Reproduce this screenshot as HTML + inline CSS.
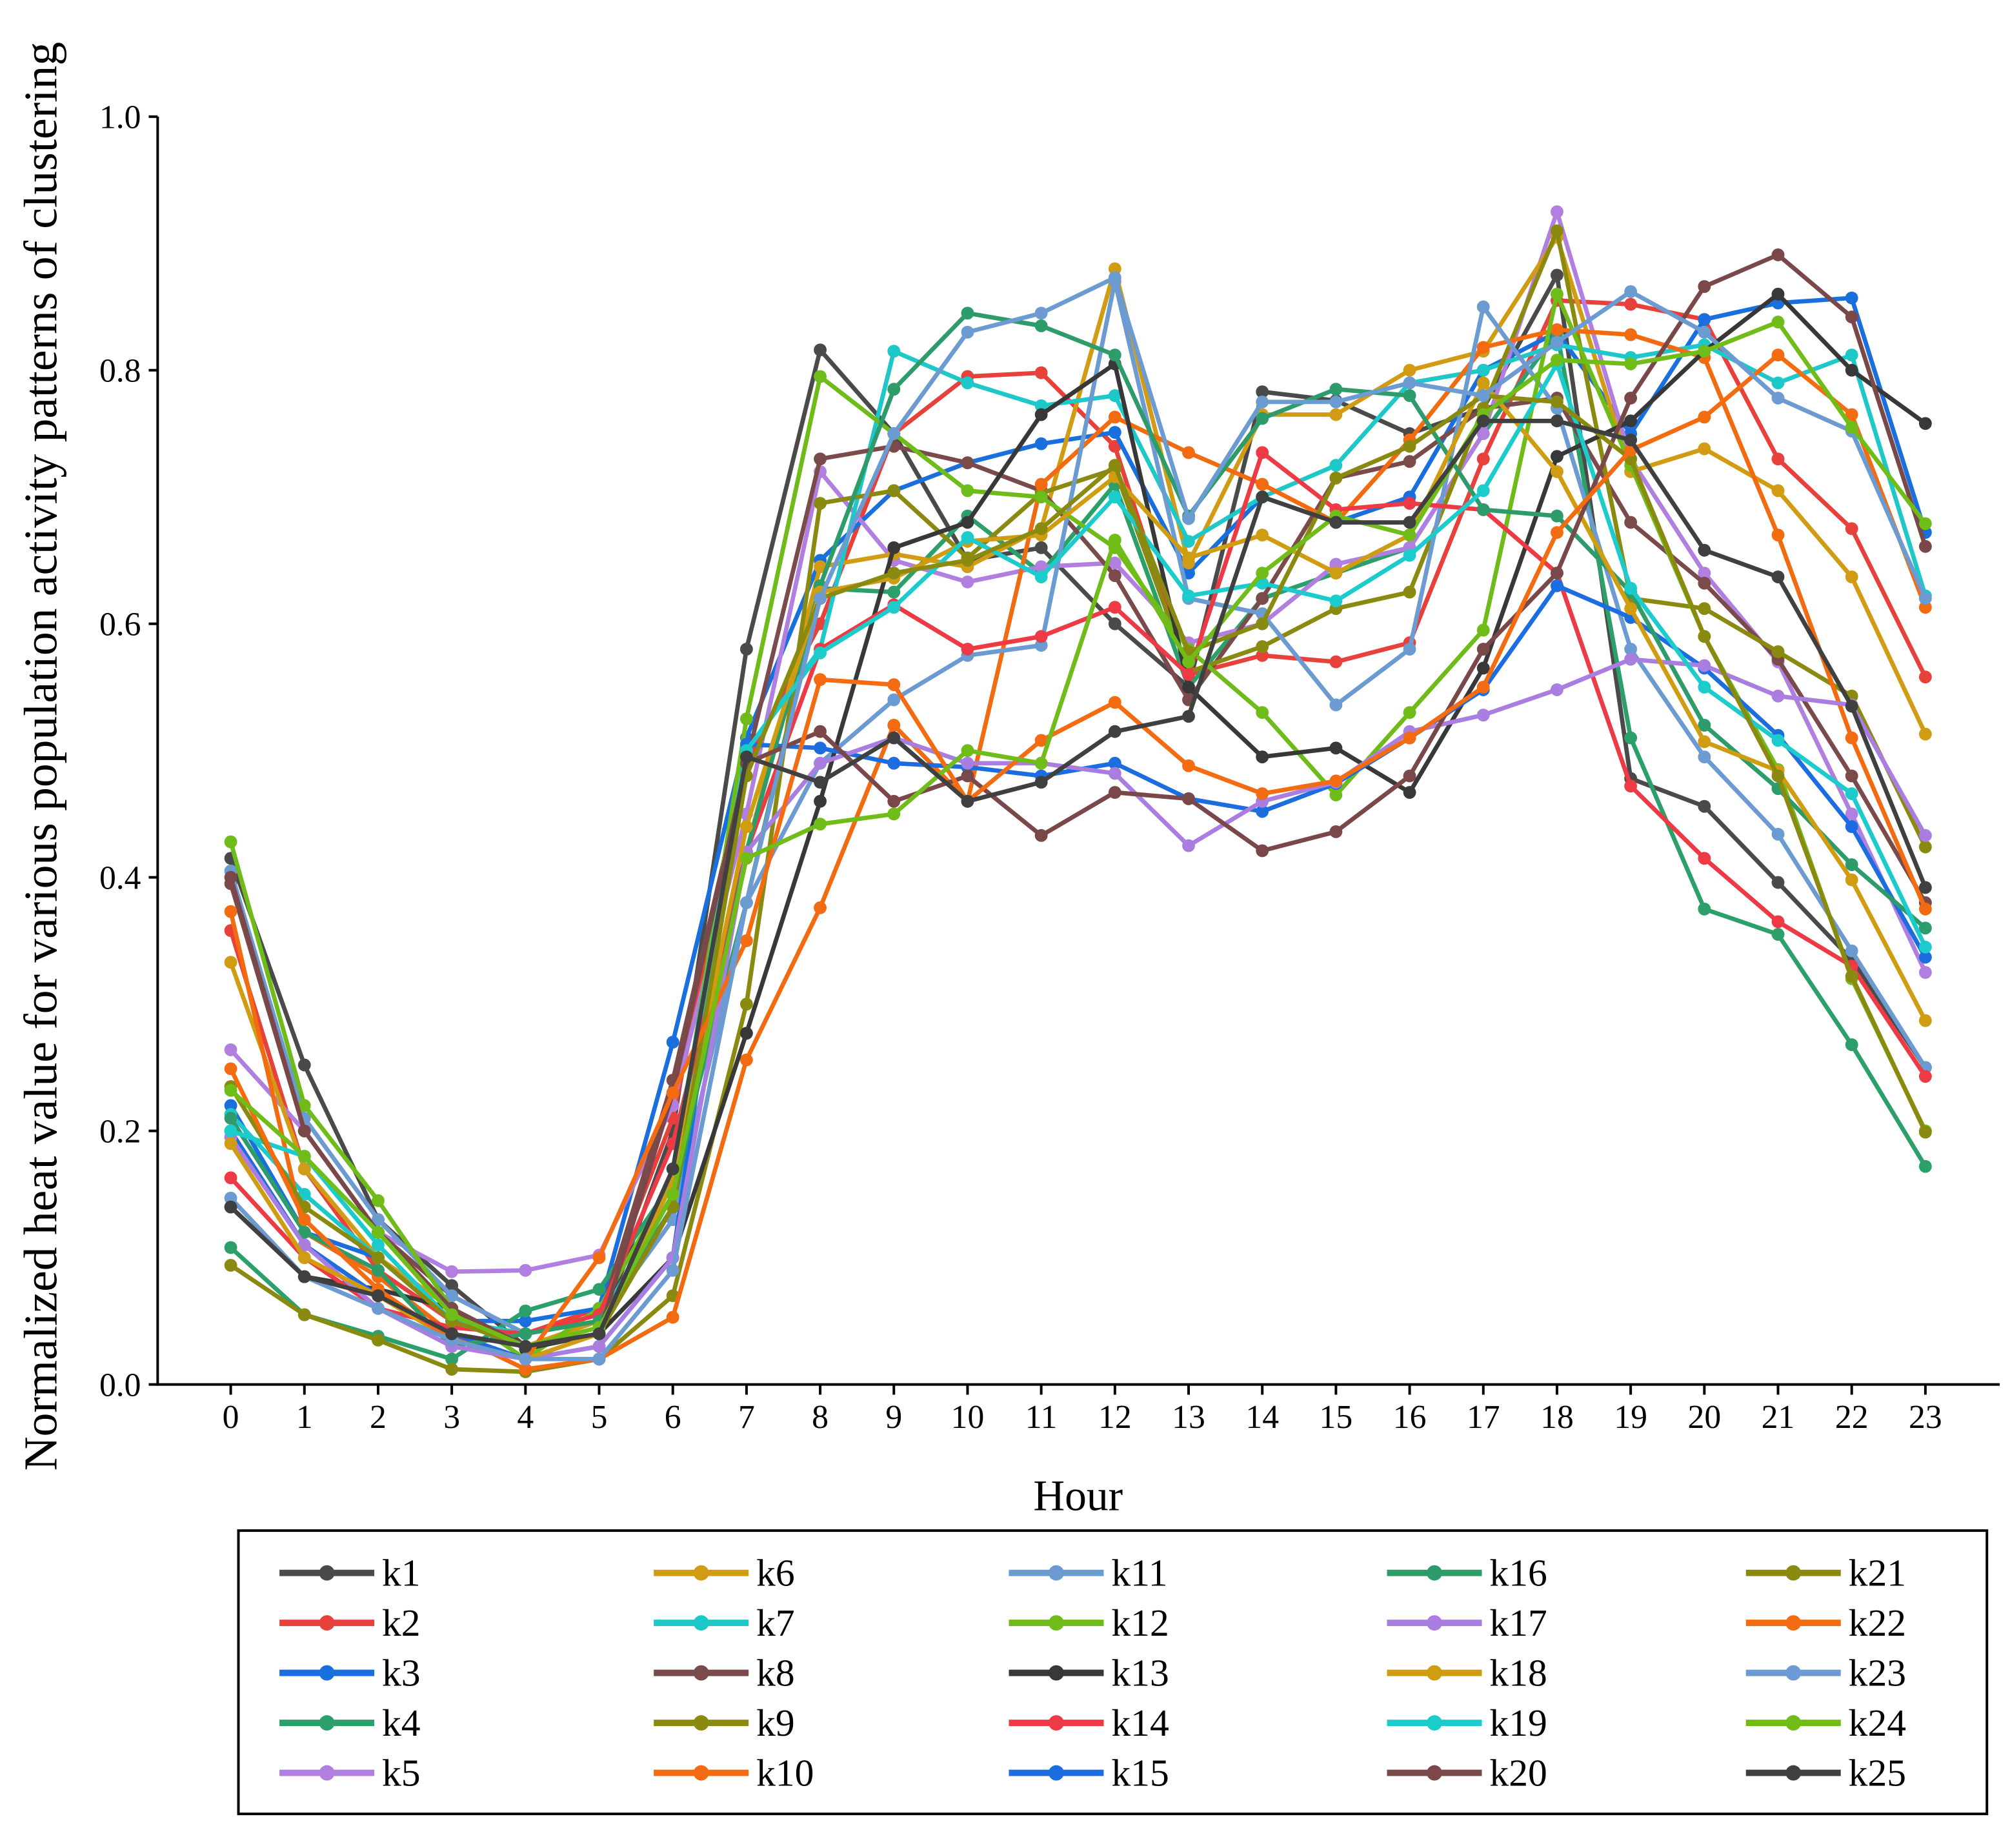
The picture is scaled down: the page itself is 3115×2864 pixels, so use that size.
<!DOCTYPE html>
<html><head><meta charset="utf-8"><style>
html,body{margin:0;padding:0;background:#fff}
svg{display:block}
text{font-family:"Liberation Serif",serif;fill:#000}
</style></head><body>
<svg id="chart" width="3115" height="2864" viewBox="0 0 1568 1441.6" preserveAspectRatio="none" xmlns="http://www.w3.org/2000/svg">
<g id="axes"></g>
<g id="series"></g>
<g id="legend"></g>
</svg>
<script>
const hours = [0,1,2,3,4,5,6,7,8,9,10,11,12,13,14,15,16,17,18,19,20,21,22,23];
const yTicks = [0.0,0.2,0.4,0.6,0.8,1.0];
const yTickLabels = ["0.0","0.2","0.4","0.6","0.8","1.0"];
const seriesNames = ["k1","k2","k3","k4","k5","k6","k7","k8","k9","k10","k11","k12","k13","k14","k15","k16","k17","k18","k19","k20","k21","k22","k23","k24","k25"];
const k1 = [0.415,0.252,0.13,0.078,0.03,0.04,0.2,0.58,0.816,0.75,0.65,0.66,0.60,0.55,0.783,0.776,0.75,0.77,0.875,0.478,0.456,0.396,0.335,0.25];
const k2 = [0.358,0.17,0.09,0.05,0.04,0.06,0.21,0.49,0.6,0.75,0.795,0.798,0.74,0.56,0.575,0.57,0.585,0.73,0.855,0.852,0.84,0.73,0.675,0.558];
const k3 = [0.22,0.12,0.1,0.05,0.05,0.06,0.27,0.51,0.65,0.705,0.727,0.742,0.751,0.64,0.70,0.68,0.70,0.80,0.83,0.75,0.84,0.853,0.857,0.672];
const k4 = [0.108,0.055,0.038,0.02,0.058,0.075,0.16,0.38,0.628,0.625,0.685,0.64,0.71,0.55,0.62,0.64,0.66,0.75,0.83,0.51,0.375,0.355,0.268,0.172];
const k5 = [0.264,0.2,0.12,0.089,0.09,0.102,0.22,0.45,0.72,0.65,0.633,0.645,0.648,0.585,0.6,0.647,0.66,0.75,0.925,0.73,0.64,0.57,0.45,0.325];
const k6 = [0.333,0.17,0.1,0.06,0.03,0.05,0.15,0.42,0.645,0.655,0.645,0.675,0.88,0.648,0.765,0.765,0.8,0.815,0.905,0.72,0.738,0.705,0.637,0.513];
const k7 = [0.213,0.15,0.1,0.05,0.04,0.05,0.15,0.5,0.58,0.815,0.79,0.772,0.78,0.665,0.7,0.725,0.79,0.80,0.82,0.81,0.82,0.79,0.812,0.622];
const k8 = [0.395,0.2,0.12,0.07,0.04,0.05,0.24,0.49,0.73,0.74,0.727,0.705,0.638,0.54,0.62,0.715,0.728,0.77,0.778,0.68,0.632,0.572,0.48,0.38];
const k9 = [0.094,0.055,0.035,0.012,0.01,0.02,0.07,0.3,0.695,0.705,0.652,0.703,0.722,0.562,0.582,0.612,0.625,0.77,0.91,0.62,0.612,0.578,0.543,0.424];
const k10 = [0.373,0.12,0.085,0.04,0.012,0.02,0.053,0.256,0.376,0.52,0.46,0.71,0.763,0.735,0.71,0.68,0.745,0.818,0.832,0.828,0.81,0.67,0.51,0.375];
const k11 = [0.405,0.21,0.13,0.07,0.04,0.05,0.13,0.38,0.49,0.54,0.575,0.583,0.87,0.62,0.608,0.536,0.58,0.85,0.77,0.58,0.495,0.434,0.342,0.25];
const k12 = [0.428,0.22,0.145,0.06,0.02,0.06,0.16,0.525,0.795,0.75,0.705,0.70,0.66,0.58,0.53,0.465,0.53,0.595,0.86,0.725,0.59,0.485,0.32,0.2];
const k13 = [0.14,0.085,0.075,0.06,0.028,0.04,0.1,0.277,0.46,0.66,0.68,0.765,0.805,0.55,0.495,0.502,0.467,0.565,0.732,0.76,0.815,0.86,0.80,0.758];
const k14 = [0.163,0.1,0.06,0.045,0.04,0.055,0.19,0.42,0.58,0.615,0.58,0.59,0.613,0.56,0.735,0.69,0.695,0.69,0.64,0.472,0.415,0.365,0.33,0.243];
const k15 = [0.2,0.11,0.07,0.04,0.02,0.03,0.1,0.505,0.502,0.49,0.487,0.48,0.49,0.462,0.452,0.474,0.51,0.548,0.63,0.605,0.565,0.512,0.44,0.337];
const k16 = [0.21,0.12,0.09,0.03,0.04,0.05,0.14,0.42,0.63,0.785,0.845,0.835,0.812,0.685,0.762,0.785,0.78,0.69,0.685,0.625,0.52,0.47,0.41,0.36];
const k17 = [0.195,0.11,0.06,0.03,0.02,0.03,0.1,0.42,0.49,0.51,0.49,0.49,0.482,0.425,0.46,0.475,0.515,0.528,0.548,0.572,0.567,0.543,0.536,0.433];
const k18 = [0.19,0.1,0.07,0.035,0.02,0.04,0.16,0.44,0.625,0.636,0.665,0.67,0.716,0.652,0.67,0.64,0.67,0.79,0.72,0.612,0.507,0.484,0.398,0.287];
const k19 = [0.2,0.18,0.11,0.05,0.03,0.04,0.17,0.5,0.577,0.613,0.668,0.637,0.70,0.622,0.632,0.618,0.654,0.705,0.805,0.628,0.55,0.508,0.466,0.345];
const k20 = [0.4,0.2,0.12,0.06,0.03,0.04,0.23,0.49,0.515,0.46,0.48,0.433,0.467,0.462,0.421,0.436,0.48,0.58,0.64,0.778,0.866,0.891,0.842,0.661];
const k21 = [0.235,0.14,0.1,0.05,0.03,0.04,0.14,0.48,0.62,0.64,0.65,0.675,0.725,0.578,0.6,0.715,0.74,0.78,0.775,0.73,0.59,0.48,0.322,0.199];
const k22 = [0.249,0.13,0.075,0.035,0.02,0.1,0.23,0.35,0.556,0.552,0.46,0.508,0.538,0.488,0.466,0.476,0.51,0.55,0.672,0.737,0.763,0.812,0.765,0.613];
const k23 = [0.147,0.085,0.06,0.035,0.02,0.02,0.09,0.38,0.62,0.75,0.83,0.845,0.873,0.683,0.775,0.775,0.79,0.78,0.822,0.862,0.83,0.778,0.752,0.62];
const k24 = [0.232,0.18,0.12,0.055,0.03,0.045,0.15,0.415,0.442,0.45,0.5,0.49,0.666,0.57,0.64,0.685,0.67,0.765,0.808,0.805,0.815,0.838,0.755,0.679];
const k25 = [0.14,0.085,0.07,0.04,0.03,0.04,0.17,0.495,0.475,0.51,0.46,0.475,0.515,0.527,0.7,0.68,0.68,0.76,0.76,0.745,0.658,0.637,0.535,0.392];
const seriesValues = [k1,k2,k3,k4,k5,k6,k7,k8,k9,k10,k11,k12,k13,k14,k15,k16,k17,k18,k19,k20,k21,k22,k23,k24,k25];
const colors = ["#4a4a4a","#e8413c","#1a6fdf","#2ca06a","#b07fe0","#d19c13","#1fc8c8","#7b4a4a","#8a8a10","#f26b10","#6b9bd1","#6fbb1a","#383838","#ee3a44","#1b6de0","#2e9c6a","#a97ee0","#d09c12","#1ccccc","#7a4848","#8a8a10","#f46c12","#6b9bd1","#70bc18","#404040"];

const NS="http://www.w3.org/2000/svg";
const X0=180, X1=1502, Y0=1080, Y1=91;
function xScale(h){return X0+(h-hours[0])*(X1-X0)/(hours[hours.length-1]-hours[0]);}
function yScale(v){return Y0-(v-0)*(Y0-Y1)/1.0;}
function mk(tag,attrs,parent){const e=document.createElementNS(NS,tag);for(const k in attrs)e.setAttribute(k,attrs[k]);parent.appendChild(e);return e;}

const axes=document.getElementById('axes');
let e;
e=mk('line',{x1:123,y1:Y0,x2:1560,y2:Y0,stroke:'#000','stroke-width':2},axes);


e=mk('line',{x1:123,y1:Y0+1,x2:123,y2:Y1,stroke:'#000','stroke-width':2},axes);


yTicks.forEach((v,i)=>{
  const y=yScale(v);
  const t=mk('line',{x1:116,y1:y,x2:123,y2:y,stroke:'#000','stroke-width':2},axes);
  
  
  const l=mk('text',{x:110,y:y+9,'text-anchor':'end','font-size':26},axes);
  l.textContent=yTickLabels[i];
  
  
});
hours.forEach(h=>{
  const x=xScale(h);
  const t=mk('line',{x1:x,y1:Y0,x2:x,y2:Y0+8,stroke:'#000','stroke-width':2},axes);
  
  
  const l=mk('text',{x:x,y:Y0+34,'text-anchor':'middle','font-size':26},axes);
  l.textContent=String(h);
  
  
});
e=mk('text',{x:841,y:1178,'text-anchor':'middle','font-size':34},axes);
e.textContent='Hour';


e=mk('text',{x:0,y:0,'text-anchor':'middle','font-size':37,transform:'translate(44,590) rotate(-90)'},axes);
e.textContent='Normalized heat value for various population activity patterns of clustering';



const sg=document.getElementById('series');
seriesValues.forEach((vals,i)=>{
  const g=mk('g',{},sg);
  
  
  const pts=vals.map((v,j)=>xScale(hours[j]).toFixed(1)+','+yScale(v).toFixed(1)).join(' ');
  const pl=mk('polyline',{points:pts,fill:'none',stroke:colors[i],'stroke-width':3.4,'stroke-linejoin':'round'},g);
  
  
  vals.forEach((v,j)=>{
    const c=mk('circle',{cx:xScale(hours[j]),cy:yScale(v),r:5,fill:colors[i]},g);
    
    
  });
});

const lg=document.getElementById('legend');
e=mk('rect',{x:186,y:1194,width:1364,height:221,fill:'#fff',stroke:'#000','stroke-width':2},lg);


const colX=[218,510,787,1082,1362];
const rowY=[1227,1266,1305,1344,1383];
seriesNames.forEach((n,i)=>{
  const cx=colX[Math.floor(i/5)], cy=rowY[i%5];
  const g=mk('g',{},lg);
  
  
  mk('line',{x1:cx,y1:cy,x2:cx+74,y2:cy,stroke:colors[i],'stroke-width':5},g);
  mk('circle',{cx:cx+37,cy:cy,r:6,fill:colors[i]},g);
  const t=mk('text',{x:cx+80,y:cy+10,'font-size':30},g);
  t.textContent=n;
});
</script>
</body></html>
